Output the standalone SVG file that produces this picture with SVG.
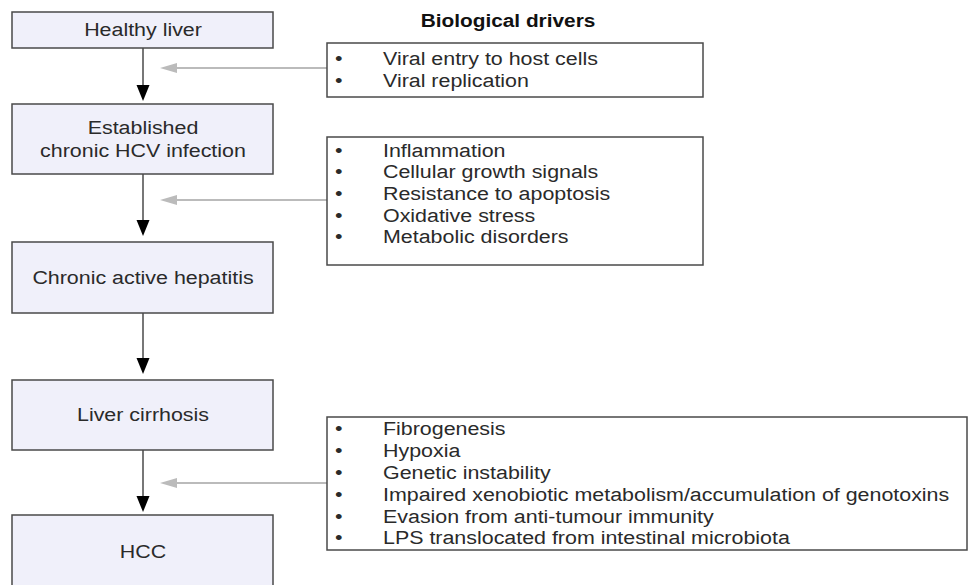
<svg xmlns="http://www.w3.org/2000/svg" width="968" height="585" viewBox="0 0 968 585">
<defs>
<style>
.stage{fill:#f0f0fa;stroke:#4a4a4a;stroke-width:1.5}
.drv{fill:#fff;stroke:#4a4a4a;stroke-width:1.5}
text{font-family:"Liberation Sans",Arial,sans-serif;font-size:18px;fill:#2a2a2a}
.c{text-anchor:middle}
.t{font-weight:bold;font-size:17.5px;fill:#111}
.flow{stroke:#4a4a4a;stroke-width:1.5;fill:none}
.gray{stroke:#bbbbbb;stroke-width:2;fill:none}
.head{fill:#000}
.ghead{fill:#bbbbbb}
</style>
</defs>
<rect width="968" height="585" fill="#fff"/>
<g id="connectors">
<line class="flow" x1="143" y1="48" x2="143" y2="86"/>
<path class="head" d="M136.5,85 L149.5,85 L143,101 Z"/>
<line class="flow" x1="143" y1="174" x2="143" y2="221"/>
<path class="head" d="M136.5,220 L149.5,220 L143,236 Z"/>
<line class="flow" x1="143" y1="313" x2="143" y2="359"/>
<path class="head" d="M136.5,358 L149.5,358 L143,374 Z"/>
<line class="flow" x1="143" y1="450" x2="143" y2="497"/>
<path class="head" d="M136.5,496 L149.5,496 L143,512 Z"/>
<line class="gray" x1="327" y1="68" x2="174" y2="68"/>
<path class="ghead" d="M160,68 L177,63 L177,73 Z"/>
<line class="gray" x1="327" y1="200" x2="174" y2="200"/>
<path class="ghead" d="M160,200 L177,195 L177,205 Z"/>
<line class="gray" x1="327" y1="483" x2="174" y2="483"/>
<path class="ghead" d="M160,483 L177,478 L177,488 Z"/>
</g>
<g id="healthy">
<rect class="stage" x="12" y="12" width="261" height="36"/>
<text class="c" transform="translate(143 36) scale(1.19 1)">Healthy liver</text>
</g>
<g id="established">
<rect class="stage" x="12" y="104" width="261" height="70"/>
<text class="c" transform="translate(143 134) scale(1.19 1)">Established</text>
<text class="c" transform="translate(143 157) scale(1.19 1)">chronic HCV infection</text>
</g>
<g id="hepatitis">
<rect class="stage" x="12" y="242" width="261" height="71"/>
<text class="c" transform="translate(143 284) scale(1.19 1)">Chronic active hepatitis</text>
</g>
<g id="cirrhosis">
<rect class="stage" x="12" y="380" width="261" height="70"/>
<text class="c" transform="translate(143 421) scale(1.19 1)">Liver cirrhosis</text>
</g>
<g id="hcc">
<rect class="stage" x="12" y="515" width="261" height="75"/>
<text class="c" transform="translate(143 558) scale(1.19 1)">HCC</text>
</g>
<g id="title">
<text class="c t" transform="translate(508 27) scale(1.19 1)">Biological drivers</text>
</g>
<g id="drivers1">
<rect class="drv" x="327" y="43" width="376" height="54"/>
<text transform="translate(335 65) scale(1.19 1)">•</text><text transform="translate(383 65) scale(1.19 1)">Viral entry to host cells</text>
<text transform="translate(335 87) scale(1.19 1)">•</text><text transform="translate(383 87) scale(1.19 1)">Viral replication</text>
</g>
<g id="drivers2">
<rect class="drv" x="327" y="137" width="376" height="128"/>
<text transform="translate(335 157) scale(1.19 1)">•</text><text transform="translate(383 157) scale(1.19 1)">Inflammation</text>
<text transform="translate(335 178) scale(1.19 1)">•</text><text transform="translate(383 178) scale(1.19 1)">Cellular growth signals</text>
<text transform="translate(335 200) scale(1.19 1)">•</text><text transform="translate(383 200) scale(1.19 1)">Resistance to apoptosis</text>
<text transform="translate(335 222) scale(1.19 1)">•</text><text transform="translate(383 222) scale(1.19 1)">Oxidative stress</text>
<text transform="translate(335 243) scale(1.19 1)">•</text><text transform="translate(383 243) scale(1.19 1)">Metabolic disorders</text>
</g>
<g id="drivers3">
<rect class="drv" x="327" y="417" width="640" height="133"/>
<text transform="translate(335 435) scale(1.19 1)">•</text><text transform="translate(383 435) scale(1.19 1)">Fibrogenesis</text>
<text transform="translate(335 457) scale(1.19 1)">•</text><text transform="translate(383 457) scale(1.19 1)">Hypoxia</text>
<text transform="translate(335 479) scale(1.19 1)">•</text><text transform="translate(383 479) scale(1.19 1)">Genetic instability</text>
<text transform="translate(335 501) scale(1.19 1)">•</text><text transform="translate(383 501) scale(1.19 1)">Impaired xenobiotic metabolism/accumulation of genotoxins</text>
<text transform="translate(335 523) scale(1.19 1)">•</text><text transform="translate(383 523) scale(1.19 1)">Evasion from anti-tumour immunity</text>
<text transform="translate(335 544) scale(1.19 1)">•</text><text transform="translate(383 544) scale(1.19 1)">LPS translocated from intestinal microbiota</text>
</g>
</svg>
